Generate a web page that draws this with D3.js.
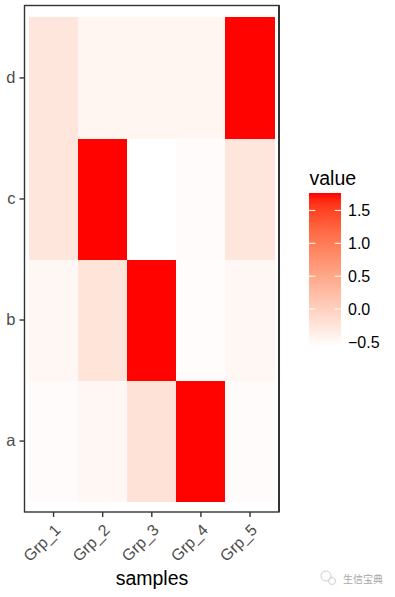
<!DOCTYPE html>
<html><head><meta charset="utf-8">
<script src="https://cdn.jsdelivr.net/npm/d3@7"></script>
<style>html,body{margin:0;padding:0;background:#fff}svg{display:block}text{font-family:"Liberation Sans",Arial,sans-serif}</style>
</head><body><div id="chart"></div>
<script>
const samples = ["Grp_1","Grp_2","Grp_3","Grp_4","Grp_5"];
const rows = ["a","b","c","d"];
const rowA = [-0.53,-0.47,-0.22,1.76,-0.53];
const rowB = [-0.47,-0.24,1.76,-0.54,-0.48];
const rowC = [-0.26,1.76,-0.576,-0.53,-0.27];
const rowD = [-0.27,-0.46,-0.46,-0.46,1.76];
const legendTicks = [-0.5,0,0.5,1,1.5];
const valueDomain = [-0.576,1.765];
const matrix = {a:rowA,b:rowB,c:rowC,d:rowD};

const W=395,H=597;
const panel={l:24.5,r:279,t:5.5,b:512};
const svg=d3.select("#chart").append("svg").attr("width",W).attr("height",H);
const color=d3.scaleLinear().domain(valueDomain).range(["#ffffff","#ff0000"]).interpolate(d3.interpolateLab);

const x=d3.scaleBand().domain(samples).range([29,274.6]);
const y=d3.scaleBand().domain(rows).range([501.6,17.4]);

const cells=rows.flatMap(r=>samples.map((s,i)=>({r,s,v:matrix[r][i]})));
svg.append("g").attr("shape-rendering","crispEdges").selectAll("rect").data(cells).join("rect")
  .attr("x",d=>x(d.s)).attr("y",d=>y(d.r))
  .attr("width",x.bandwidth()+0.3).attr("height",y.bandwidth()+0.3)
  .attr("fill",d=>color(d.v));

svg.append("rect").attr("x",panel.l).attr("y",panel.t)
  .attr("width",panel.r-panel.l).attr("height",panel.b-panel.t)
  .attr("fill","none").attr("stroke","#333").attr("stroke-width",1.4);
svg.append("line").attr("x1",panel.r).attr("x2",panel.r).attr("y1",panel.t).attr("y2",panel.b)
  .attr("stroke","#333").attr("stroke-width",2);

const gx=svg.append("g").attr("transform",`translate(0,${panel.b})`)
  .call(d3.axisBottom(x).tickSize(5).tickPadding(4));
gx.select(".domain").remove();
gx.selectAll("line").attr("stroke","#333").attr("stroke-width",1.4);
gx.selectAll("text").attr("fill","#4d4d4d").attr("font-size",16)
  .attr("text-anchor","end").attr("dy",0).attr("y",0).attr("x",0)
  .attr("transform","translate(8,19) rotate(-45)");

const gy=svg.append("g").attr("transform",`translate(${panel.l},0)`)
  .call(d3.axisLeft(y).tickSize(5).tickPadding(4));
gy.select(".domain").remove();
gy.selectAll("line").attr("stroke","#333").attr("stroke-width",1.4);
gy.selectAll("text").attr("fill","#4d4d4d").attr("font-size",16.5);

svg.append("text").attr("x",152).attr("y",584.5).attr("text-anchor","middle")
  .attr("font-size",19.5).attr("fill","#000").text("samples");

// legend
const lg={x:309,w:32,t:193,b:347};
const ly=d3.scaleLinear().domain(valueDomain).range([lg.b,lg.t]);
const defs=svg.append("defs");
const grad=defs.append("linearGradient").attr("id","ramp").attr("x1",0).attr("x2",0).attr("y1",1).attr("y2",0);
d3.range(0,21).forEach(i=>{
  const t=i/20;
  grad.append("stop").attr("offset",t).attr("stop-color",color(valueDomain[0]+t*(valueDomain[1]-valueDomain[0])));
});
svg.append("rect").attr("x",lg.x).attr("y",lg.t).attr("width",lg.w).attr("height",lg.b-lg.t).attr("fill","url(#ramp)");
const gl=svg.append("g").attr("transform",`translate(${lg.x+lg.w},0)`)
  .call(d3.axisRight(ly).tickValues(legendTicks).tickSize(0).tickPadding(7)
    .tickFormat(d=>d3.format(".1f")(d).replace("-","\u2212")));
gl.select(".domain").remove();
gl.selectAll("text").attr("fill","#000").attr("font-size",16);
svg.append("g").selectAll("g").data(legendTicks).join("g").each(function(d){
  const g=d3.select(this);
  [[lg.x,lg.x+6.4],[lg.x+lg.w-6.4,lg.x+lg.w]].forEach(([a,b])=>{
    g.append("line").attr("x1",a).attr("x2",b).attr("y1",ly(d)).attr("y2",ly(d)).attr("stroke","#fff").attr("stroke-width",1);
  });
});
svg.append("text").attr("x",309.5).attr("y",185).attr("font-size",19.5).attr("fill","#000").text("value");

// watermark
const wm=svg.append("g").attr("fill","none").attr("stroke","#d0d0d0").attr("stroke-width",1);
wm.append("circle").attr("cx",326).attr("cy",576).attr("r",5);
wm.append("circle").attr("cx",332).attr("cy",581).attr("r",3.5);
svg.append("text").attr("x",343).attr("y",583).attr("font-size",10)
  .attr("fill","#a8a8a8").style("font-family","'Noto Sans CJK SC'").text("生信宝典");
</script></body></html>
